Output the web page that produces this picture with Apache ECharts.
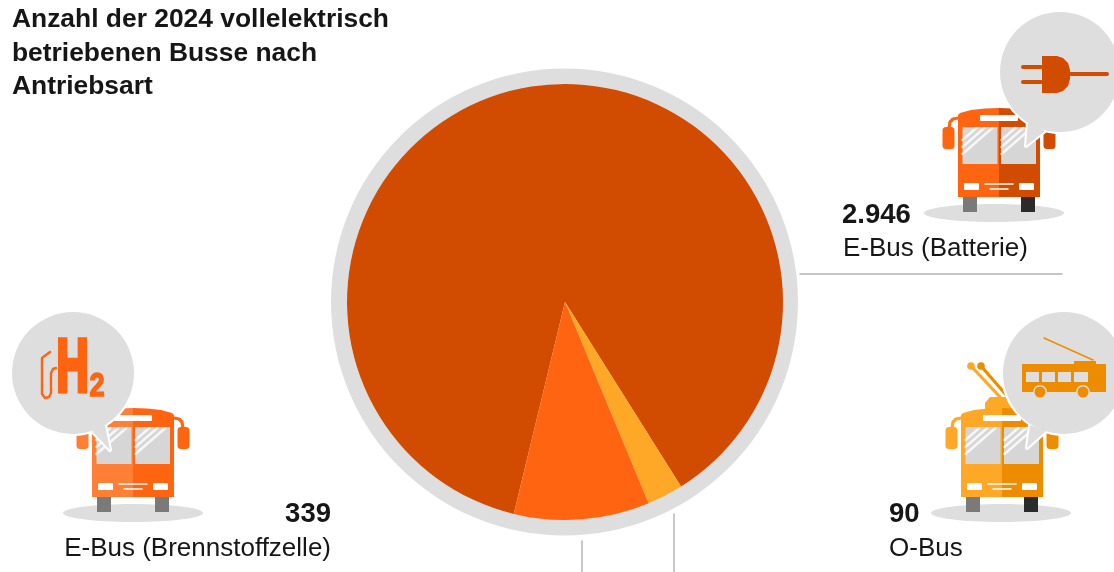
<!DOCTYPE html>
<html lang="de">
<head>
<meta charset="utf-8">
<title>Vollelektrische Busse 2024</title>
<style>html,body{margin:0;padding:0;background:#fff}#chart{width:1114px;height:572px}</style>
<script src="https://cdn.jsdelivr.net/npm/echarts@6/dist/echarts.min.js"></script>
</head>
<body>
<div id="chart"></div>
<script>
// Bus counts by drive type
const titleLines = ['Anzahl der 2024 vollelektrisch', 'betriebenen Busse nach', 'Antriebsart'];
const categories = ['E-Bus (Batterie)', 'O-Bus', 'E-Bus (Brennstoffzelle)'];
const busCounts = [2946, 90, 339];

const ORANGE_DARK = '#d14b00', ORANGE = '#ff6410', ORANGE_LIGHT = '#ff8035';
const AMBER = '#ffa726', AMBER_DARK = '#ee8c00';
const GREY = '#dedede', RULE = '#b4b4b4', INK = '#161616';
const FONT = '"Liberation Sans", Arial, sans-serif';
const sliceColors = [ORANGE_DARK, AMBER, ORANGE];

const fmt = v => v.toLocaleString('de-DE');

const rect = (x, y, width, height, fill, r) => ({ type: 'rect', shape: { x, y, width, height, r: r || 0 }, style: { fill } });
const poly = (points, fill) => ({ type: 'polygon', shape: { points }, style: { fill } });
const line = (points, stroke, lineWidth) => ({ type: 'polyline', shape: { points }, style: { stroke, lineWidth, fill: null, lineCap: 'round', lineJoin: 'round' } });
const circle = (cx, cy, r, fill) => ({ type: 'circle', shape: { cx, cy, r }, style: { fill } });

// Front view of a bus; the origin is the middle of the lower body edge.
function bus(x, y, o) {
  const half = s => [[0, 0], [s * 41, 0], [s * 41, -82], [s * 39, -84], [s * 28, -87], [s * 14, -88.5], [0, -89]];
  const mirror = (s, fill) => [
    line([[s * 41, -79], [s * 46, -78], [s * 49, -75], [s * 50, -69]], fill, 3.2),
    rect(s > 0 ? 44.5 : -56.5, -70, 12, 22, fill, 3.5)
  ];
  const hatch = dx => [-43, -50, -57].map(y0 => line([[dx - 36, y0], [dx - 36 + (y0 + 69) * 1.15, -69]], 'rgba(255,255,255,.8)', 2.4));
  const children = [
    { type: 'ellipse', shape: { cx: o.shadowDx, cy: 16, rx: 70, ry: 9 }, style: { fill: GREY } },
    rect(-36, -1, 14, 16, '#7a7a7a'),
    rect(22, -1, 14, 16, o.wheelRight)
  ];
  if (o.trolley) {
    children.push(
      line([[-2, -100], [-31, -131]], o.left, 3.2),
      line([[6, -100], [-21, -131]], o.right, 3.2),
      circle(-31, -131, 3.8, o.left),
      circle(-21, -131, 3.8, o.right),
      poly([[-17, -84], [-17, -94], [-12, -100], [8, -100], [16, -92], [16, -84]], o.left)
    );
  }
  children.push(
    ...mirror(-1, o.left), ...mirror(1, o.right),
    poly(half(-1), o.left), poly(half(1), o.right),
    rect(-36.5, -70, 35, 37, '#d6d6d6'), rect(2, -70, 35, 37, '#d6d6d6'),
    ...hatch(-0.5), ...hatch(38.5),
    rect(-19, -82, 38, 6, '#fff', 1),
    rect(-35, -14, 15, 7, '#fff', 1), rect(20, -14, 15, 7, '#fff', 1),
    line([[-14, -13], [14, -13]], '#fff', 1.5),
    line([[-9, -8], [9, -8]], '#fff', 1.5)
  );
  return { type: 'group', x, y, children };
}

// Speech bubble with a white halo around circle and tail.
function bubble(cx, cy, r, tail) {
  const halo = { stroke: '#fff', lineWidth: 4, fill: '#fff', lineJoin: 'round' };
  return [
    { type: 'circle', shape: { cx, cy, r }, style: halo },
    { type: 'polygon', shape: { points: tail }, style: halo },
    circle(cx, cy, r, GREY),
    poly(tail, GREY)
  ];
}

const plugIcon = [
  rect(1021, 65, 22, 4, ORANGE_DARK, 2), rect(1021, 80, 22, 4, ORANGE_DARK, 2),
  poly([[1042, 56], [1057, 56], [1063, 58], [1068, 63], [1070, 70], [1070, 79], [1068, 86], [1063, 91], [1057, 93], [1042, 93]], ORANGE_DARK),
  rect(1069, 72, 40, 4, ORANGE_DARK, 2)
];

const textEl = (x, y, text, size, weight, fill, align, stroke) => ({
  type: 'text', x, y,
  style: {
    text, fill, font: `${weight} ${size}px ${FONT}`, textAlign: align, textVerticalAlign: 'middle',
    stroke: stroke ? fill : null, lineWidth: stroke || 0
  }
});

const hydrogenIcon = [
  { type: 'group', x: 72.5, y: 371, scaleX: 0.6, children: [textEl(0, 0, 'H', 74, 'bold', ORANGE, 'center', 5)] },
  { type: 'group', x: 97, y: 387, scaleX: 0.8, children: [textEl(0, 0, '2', 34, 'bold', ORANGE, 'center', 1.5)] },
  line([[50, 352], [42, 358], [42, 394], [45, 398], [49, 397], [51, 393], [51, 373], [53, 369], [56, 368]], ORANGE, 2.4)
];

const trolleyIcon = [
  line([[1093, 360], [1044, 338]], AMBER_DARK, 1.4),
  rect(1074, 361, 22, 3, AMBER_DARK),
  rect(1022, 364, 84, 28, AMBER_DARK),
  rect(1026, 372, 13, 10, GREY), rect(1042, 372, 13, 10, GREY),
  rect(1058, 372, 13, 10, GREY), rect(1074, 372, 14, 10, GREY),
  circle(1040, 392, 7, GREY), circle(1083, 392, 7, GREY),
  circle(1040, 392, 5.5, AMBER_DARK), circle(1083, 392, 5.5, AMBER_DARK)
];

const rules = [
  line([[800, 274], [1062, 274]], RULE, 1.5),
  line([[582, 541], [582, 572]], RULE, 1.5),
  line([[674, 514], [674, 572]], RULE, 1.5)
];

const captions = [
  textEl(842, 215, fmt(busCounts[0]), 27.5, 'bold', INK, 'left'),
  textEl(843, 249, categories[0], 26, 'normal', INK, 'left'),
  textEl(331, 514, fmt(busCounts[2]), 27.5, 'bold', INK, 'right'),
  textEl(331, 549, categories[2], 26, 'normal', INK, 'right'),
  textEl(889, 514, fmt(busCounts[1]), 27.5, 'bold', INK, 'left'),
  textEl(889, 549, categories[1], 26, 'normal', INK, 'left')
];

const chart = echarts.init(document.getElementById('chart'), null, { renderer: 'canvas' });
chart.setOption({
  animation: false,
  backgroundColor: '#fff',
  title: {
    text: titleLines.join('\n'), left: 7, top: -2,
    textStyle: { fontFamily: FONT, fontSize: 26.4, fontWeight: 'bold', color: INK, lineHeight: 33.5 }
  },
  graphic: {
    elements: [
      { type: 'ring', shape: { cx: 564.5, cy: 302, r: 233.5, r0: 217.5 }, style: { fill: GREY }, z: -1 },
      ...rules,
      bus(999, 197, { left: ORANGE, right: ORANGE_DARK, wheelRight: '#2b2b2b', shadowDx: -5 }),
      ...bubble(1060, 72, 60, [[1028, 122], [1026, 146], [1045, 131]]),
      ...plugIcon,
      bus(133, 497, { left: ORANGE_LIGHT, right: ORANGE, wheelRight: '#7a7a7a', shadowDx: 0 }),
      ...bubble(73, 373, 61, [[92, 431], [110, 450], [105, 425]]),
      ...hydrogenIcon,
      bus(1002, 497, { left: AMBER, right: AMBER_DARK, wheelRight: '#2b2b2b', shadowDx: -1, trolley: true }),
      ...bubble(1064, 373, 61, [[1030, 425], [1027, 448], [1046, 431]]),
      ...trolleyIcon,
      ...captions
    ]
  },
  series: [{
    type: 'pie',
    silent: true,
    center: [565, 302],
    radius: [0, 218],
    startAngle: 256.4,
    clockwise: true,
    label: { show: false },
    labelLine: { show: false },
    emphasis: { disabled: true },
    data: categories.map((name, i) => ({ name, value: busCounts[i], itemStyle: { color: sliceColors[i] } }))
  }]
});
</script>
</body>
</html>
